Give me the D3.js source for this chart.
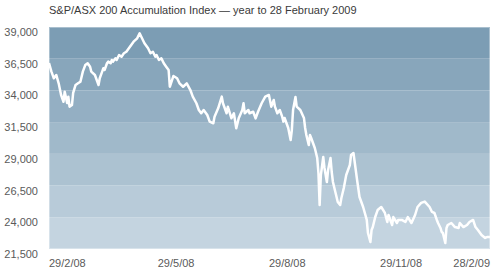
<!DOCTYPE html>
<html>
<head>
<meta charset="utf-8">
<script src="https://cdn.jsdelivr.net/npm/d3@7"></script>
<style>
  body { margin: 0; background: #fff; }
  svg { display: block; font-family: "Liberation Sans", Arial, sans-serif; }
</style>
</head>
<body>
<svg width="500" height="273"></svg>
<script>
// days after 29 Feb 2008 and index level
const days = [0, 2, 4, 6, 8, 10, 12, 13, 15, 16, 17, 19, 20, 22, 24, 26, 28, 30, 32, 34,
  35, 38, 41, 42, 44, 45, 46, 48, 49, 51, 52, 53, 55, 56, 58, 60, 62, 64, 67, 70,
  73, 75, 77, 79, 82, 84, 86, 88, 89, 91, 93, 95, 97, 99, 100, 103, 106, 108, 111, 114,
  117, 119, 122, 124, 126, 128, 131, 133, 136, 137, 140, 143, 144, 147, 148, 151, 153, 155, 157, 160,
  161, 162, 165, 166, 169, 171, 173, 176, 179, 182, 184, 186, 187, 189, 191, 193, 194, 195, 198, 200,
  201, 202, 204, 205, 208, 211, 212, 213, 215, 216, 217, 220, 222, 223, 224, 225, 227, 228, 230, 231,
  233, 234, 235, 237, 239, 241, 242, 244, 246, 249, 250, 252, 255, 257, 260, 263, 264, 266, 267, 268,
  270, 272, 275, 278, 280, 281, 284, 285, 288, 289, 292, 295, 297, 300, 303, 305, 308, 311, 315, 317,
  319, 321, 322, 324, 325, 326, 328, 329, 330, 333, 336, 339, 340, 343, 346, 348, 351, 353, 355, 358,
  361, 363, 365];

const index = [36160, 35480, 34960, 35220, 34560, 33640, 33110, 33900, 33010, 33510, 32720, 32850, 33800, 34430, 34560, 34690, 35480, 36000, 36140, 35870,
  35480, 35220, 34430, 34960, 35480, 35750, 35610, 36140, 36270, 36140, 36400, 36270, 36530, 36400, 36790, 36660, 36930, 37050, 37450, 37840,
  38110, 38500, 38110, 37720, 37320, 36930, 37050, 36660, 36790, 36400, 36530, 36140, 35870, 35610, 34290, 35140, 34960, 34560, 34290, 34560,
  34030, 33510, 32990, 32460, 32200, 32460, 32060, 31540, 31410, 31930, 32590, 33510, 32990, 32200, 32720, 31800, 32200, 31020, 31800, 32460,
  32990, 32200, 32460, 32200, 32320, 31800, 32320, 32990, 33510, 33640, 32720, 33250, 32720, 32200, 32460, 31930, 31540, 31830, 31040, 30090,
  30880, 32460, 33480, 32720, 32460, 31830, 31040, 30490, 29700, 30490, 30250, 29460, 28670, 27490, 24970, 27330, 28750, 27890, 26780, 27730,
  28670, 27570, 26780, 25990, 25210, 24970, 25520, 26310, 27330, 28120, 28910, 29070, 26940, 25600, 24810, 23790, 22760, 22050, 23000, 23230,
  24020, 24570, 24810, 24340, 23630, 24180, 23390, 24020, 23550, 23790, 23790, 23630, 24020, 23550, 24180, 24810, 25130, 25240, 24810, 24420,
  24340, 23790, 23550, 23160, 22840, 22760, 21970, 23160, 23390, 23550, 23230, 23160, 23550, 23230, 23390, 23630, 23790, 23230, 23000, 22600,
  22370, 22450, 22450];

const yTicks = [21500, 24000, 26500, 29000, 31500, 34000, 36500, 39000];
const xTickDays = [0, 90, 182, 274, 365];
const xTickLabels = ["29/2/08", "29/5/08", "29/8/08", "29/11/08", "28/2/09"];

const start = new Date(2008, 1, 29);
const data = days.map((d, i) => ({ date: d3.timeDay.offset(start, d), value: index[i] }));

const svg = d3.select("svg");
const margin = { top: 27, right: 10, bottom: 24, left: 49 };
const width = 500 - margin.left - margin.right;
const height = 273 - margin.top - margin.bottom;

const x = d3.scaleTime()
  .domain([start, d3.timeDay.offset(start, 365)])
  .range([0, width]);

const y = d3.scaleLinear()
  .domain([21500, 39000])
  .range([height, 0]);

const g = svg.append("g").attr("transform", `translate(${margin.left},${margin.top})`);

// horizontal bands, darker towards the top
const bandColor = d3.scaleLinear()
  .domain([0, yTicks.length - 2])
  .range(["#c4d4e0", "#7c9db4"])
  .interpolate(d3.interpolateRgb);

g.selectAll("rect.band")
  .data(d3.pairs(yTicks))
  .join("rect")
  .attr("class", "band")
  .attr("x", 0)
  .attr("width", width)
  .attr("y", d => y(d[1]))
  .attr("height", d => y(d[0]) - y(d[1]))
  .attr("fill", (d, i) => bandColor(i));

g.append("rect")
  .attr("x", 0.5).attr("y", 0.5)
  .attr("width", width - 1).attr("height", height - 1)
  .attr("fill", "none")
  .attr("stroke", "rgba(255,255,255,0.35)");

// y labels sit a little below their gridline
g.selectAll("text.ylab")
  .data(yTicks)
  .join("text")
  .attr("class", "ylab")
  .attr("x", -11)
  .attr("y", d => y(d) + 9)
  .attr("text-anchor", "end")
  .attr("font-size", 11)
  .attr("fill", "#5a5a5a")
  .text(d => d3.format(",")(d));

g.selectAll("text.xlab")
  .data(xTickDays)
  .join("text")
  .attr("class", "xlab")
  .attr("x", d => x(d3.timeDay.offset(start, d)))
  .attr("y", height + 18)
  .attr("text-anchor", (d, i) => i === xTickDays.length - 1 ? "end" : "start")
  .attr("font-size", 11)
  .attr("fill", "#5a5a5a")
  .text((d, i) => xTickLabels[i]);

const line = d3.line()
  .x(d => x(d.date))
  .y(d => y(d.value));

g.append("path")
  .datum(data)
  .attr("fill", "none")
  .attr("stroke", "#fff")
  .attr("stroke-width", 2.5)
  .attr("stroke-linejoin", "round")
  .attr("d", line);

svg.append("text")
  .attr("x", margin.left)
  .attr("y", 14)
  .attr("font-size", 11)
  .attr("fill", "#3a3a3a")
  .text("S&P/ASX 200 Accumulation Index — year to 28 February 2009");
</script>
</body>
</html>
